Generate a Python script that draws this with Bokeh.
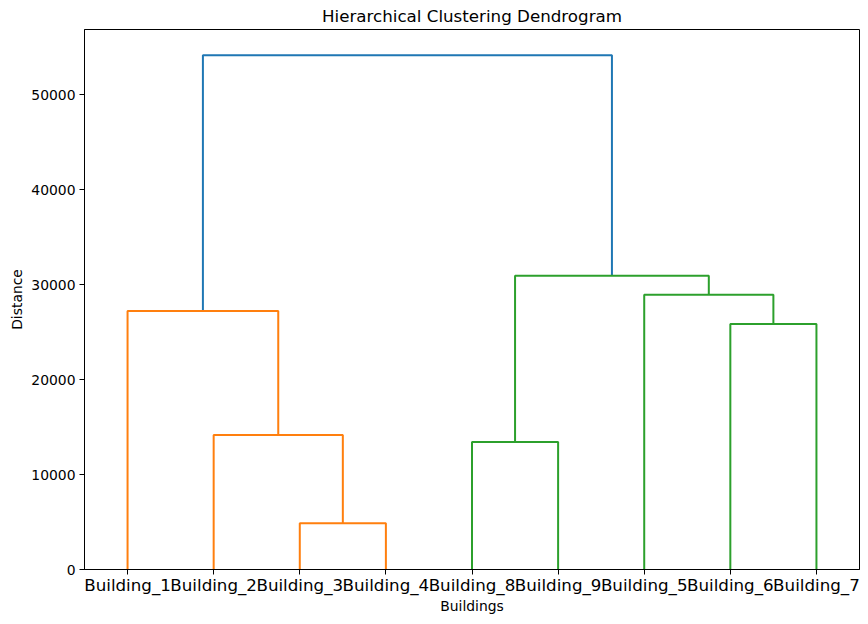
from bokeh.plotting import figure
from bokeh.models import Range1d, FixedTicker, PrintfTickFormatter
from bokeh.embed import file_html
from bokeh.resources import INLINE

# ---- data ----
leaf_names = ["Building_1", "Building_2", "Building_3", "Building_4", "Building_5",
              "Building_6", "Building_7", "Building_8", "Building_9"]
# linkage rows: (left node, right node, merge distance); nodes >= 9 are earlier merges
link_left = [2, 7, 1, 5, 0, 4, 10, 13]
link_right = [3, 8, 9, 6, 11, 12, 14, 15]
link_height = [4880, 13420, 14160, 25860, 27230, 28920, 30920, 54150]
y_ticks = [0, 10000, 20000, 30000, 40000, 50000]
palette = ["#ff7f0e", "#2ca02c"]
above_color = "#1f77b4"

n = len(leaf_names)
threshold = 0.7 * max(link_height)

# ---- dendrogram layout ----
order = []
pos = {}
hgt = {}
xs, ys, cols = [], [], []
color_idx = [0]


def children(node):
    i = node - n
    return link_left[i], link_right[i], link_height[i]


def layout(node):
    if node < n:
        order.append(node)
        x = 5 + 10 * (len(order) - 1)
        pos[node], hgt[node] = x, 0
        return x, 0
    l, r, h = children(node)
    xl, hl = layout(l)
    xr, hr = layout(r)
    pos[node], hgt[node] = (xl + xr) / 2, h
    return pos[node], h


root = n + len(link_height) - 1
layout(root)


def colorize(node, inherited):
    if node < n:
        return
    l, r, h = children(node)
    if h < threshold:
        if inherited is None:
            inherited = palette[color_idx[0] % len(palette)]
            color_idx[0] += 1
        c = inherited
    else:
        c = above_color
        inherited = None
    xs.append([pos[l], pos[l], pos[r], pos[r]])
    ys.append([hgt[l], h, h, hgt[r]])
    cols.append(c)
    colorize(l, inherited)
    colorize(r, inherited)


colorize(root, None)

# ---- figure ----
FONT = "DejaVu Sans"
p = figure(width=868, height=624, output_backend="svg", toolbar_location=None,
           x_range=Range1d(0, 10 * n), y_range=Range1d(0, max(link_height) * 1.05),
           title="Hierarchical Clustering Dendrogram",
           min_border_left=84, min_border_right=9, min_border_top=0, min_border_bottom=55)

p.multi_line(xs=xs, ys=ys, line_color=cols, line_width=2)

p.xgrid.visible = False
p.ygrid.visible = False
p.outline_line_color = "black"
p.outline_line_width = 1
p.background_fill_color = "white"
p.border_fill_color = "white"

p.title.text_font = FONT
p.title.text_font_size = "16.7px"
p.title.text_font_style = "normal"
p.title.align = "center"
p.title.text_color = "black"
p.title.standoff = 7

ticks_x = [pos[i] for i in order]
p.xaxis.ticker = FixedTicker(ticks=ticks_x)
p.xaxis.major_label_overrides = {t: leaf_names[i] for t, i in zip(ticks_x, order)}
p.yaxis.ticker = FixedTicker(ticks=y_ticks)
p.yaxis.formatter = PrintfTickFormatter(format="%d")

for ax in (p.xaxis[0], p.yaxis[0]):
    ax.axis_line_color = "black"
    ax.major_tick_line_color = "black"
    ax.major_tick_out = 5
    ax.major_tick_in = 0
    ax.minor_tick_line_color = None
    ax.major_label_text_font = FONT
    ax.axis_label_text_font = FONT
    ax.axis_label_text_font_style = "normal"
    ax.axis_label_text_font_size = "13.9px"
    ax.major_label_text_color = "black"
    ax.axis_label_text_color = "black"

p.xaxis.major_label_standoff = 0
p.yaxis.major_label_standoff = 4
p.xaxis.major_label_text_font_size = "16.7px"
p.yaxis.major_label_text_font_size = "13.9px"
p.xaxis.axis_label = "Buildings"
p.yaxis.axis_label = "Distance"
p.xaxis.axis_label_standoff = 0
p.yaxis.axis_label_standoff = 3

open("out.html", "w").write(file_html(p, INLINE))
